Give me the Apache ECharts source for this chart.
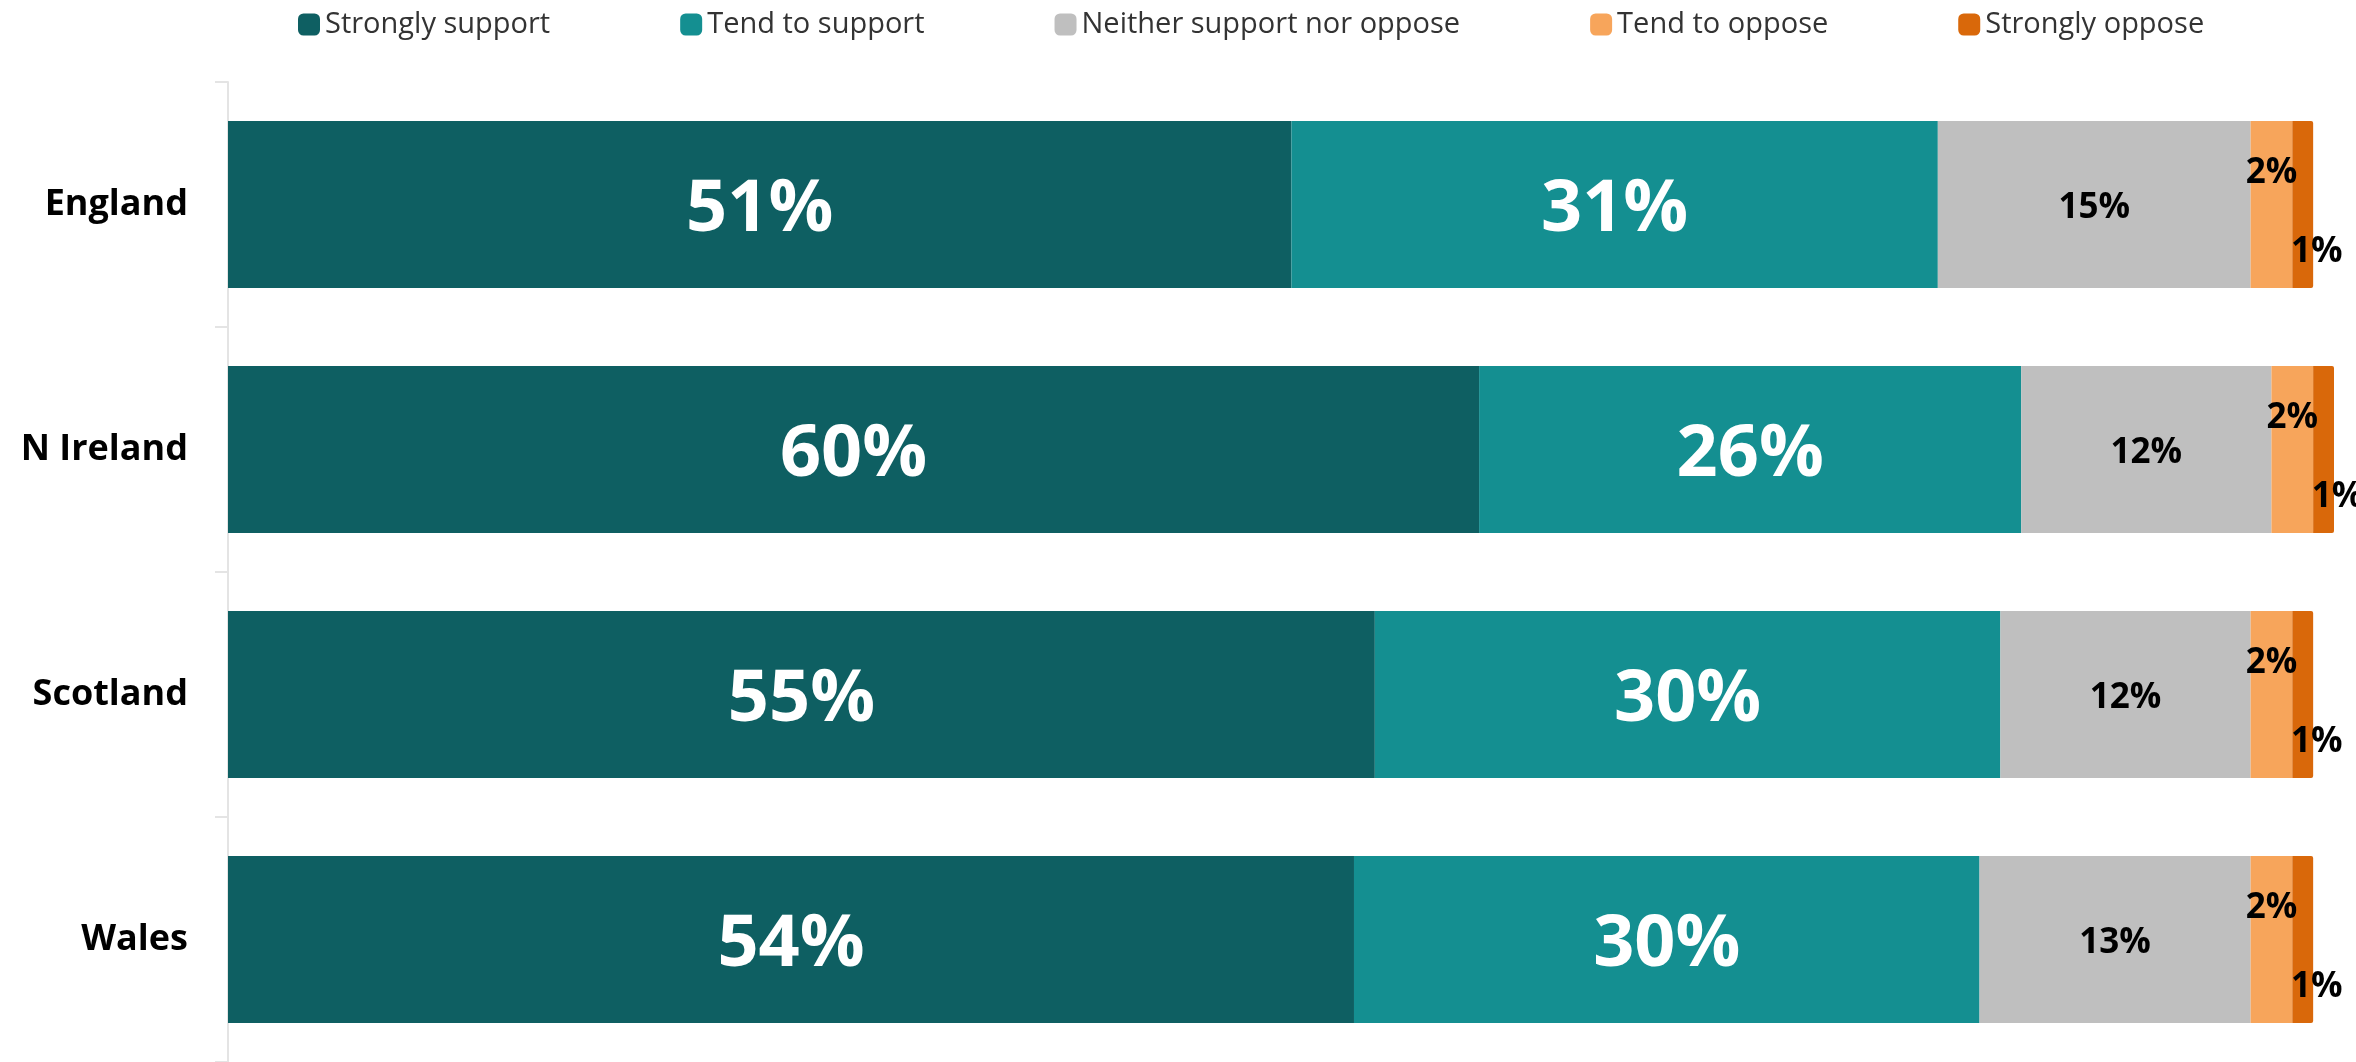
<!DOCTYPE html>
<html>
<head>
<meta charset="utf-8">
<title>Support by nation</title>
<script src="https://cdn.jsdelivr.net/npm/echarts@6/dist/echarts.min.js"></script>
<style>
  html, body { margin: 0; padding: 0; background: #ffffff; }
  #chart { width: 2356px; height: 1062px; }
</style>
</head>
<body>
<div id="chart"></div>
<script>
// Nations, top to bottom
const nations = ['England', 'N Ireland', 'Scotland', 'Wales'];

// Response shares (%) per nation, in the same order as `nations`
const stronglySupport = [51, 60, 55, 54];
const tendToSupport   = [31, 26, 30, 30];
const neither         = [15, 12, 12, 13];
const tendToOppose    = [2, 2, 2, 2];
const stronglyOppose  = [1, 1, 1, 1];

const seriesNames = [
  'Strongly support',
  'Tend to support',
  'Neither support nor oppose',
  'Tend to oppose',
  'Strongly oppose'
];

const FONT = "'Open Sans', 'Noto Sans', sans-serif";

const bigLabel = {
  show: true,
  position: 'inside',
  formatter: '{c}%',
  color: '#ffffff',
  fontFamily: FONT,
  fontWeight: 'bold',
  fontSize: 72,
  offset: [0, 6]
};

const smallLabel = {
  show: true,
  position: 'inside',
  formatter: '{c}%',
  color: '#000000',
  fontFamily: FONT,
  fontWeight: 'bold',
  fontSize: 35,
  offset: [0, 4]
};

function barSeries(name, data, color, label, extra) {
  return Object.assign({
    name: name,
    type: 'bar',
    stack: 'total',
    data: data,
    barWidth: 167,
    itemStyle: { color: color },
    label: label,
    emphasis: { disabled: true }
  }, extra || {});
}

const chart = echarts.init(document.getElementById('chart'), null, { renderer: 'canvas' });

chart.setOption({
  animation: false,
  backgroundColor: '#ffffff',
  legend: {
    left: 293,
    top: 5,
    itemWidth: 22,
    itemHeight: 22,
    itemGap: 130,
    icon: 'roundRect',
    textStyle: {
      fontFamily: FONT,
      fontSize: 29,
      color: '#333333'
    },
    data: seriesNames
  },
  grid: {
    left: 228,
    right: 22,
    top: 82,
    height: 983,
    containLabel: false
  },
  xAxis: {
    type: 'value',
    min: 0,
    max: 101,
    show: false
  },
  yAxis: {
    type: 'category',
    inverse: true,
    data: nations,
    axisLine: { show: true, lineStyle: { color: '#e4e4e4', width: 2 } },
    axisTick: { show: true, length: 13, lineStyle: { color: '#e4e4e4', width: 2 } },
    axisLabel: {
      margin: 40,
      color: '#000000',
      fontFamily: FONT,
      fontWeight: 'bold',
      fontSize: 36
    }
  },
  series: [
    barSeries(seriesNames[0], stronglySupport, '#0e5f62', bigLabel),
    barSeries(seriesNames[1], tendToSupport, '#148f91', bigLabel),
    barSeries(seriesNames[2], neither, '#bfbfbf', smallLabel),
    barSeries(seriesNames[3], tendToOppose, '#f7a55b',
      Object.assign({}, smallLabel, { offset: [0, -31] })),
    barSeries(seriesNames[4], stronglyOppose, '#d9680a',
      Object.assign({}, smallLabel, { offset: [14, 48] }),
      { itemStyle: { color: '#d9680a', borderRadius: [0, 2, 2, 0] } })
  ]
});
</script>
</body>
</html>
